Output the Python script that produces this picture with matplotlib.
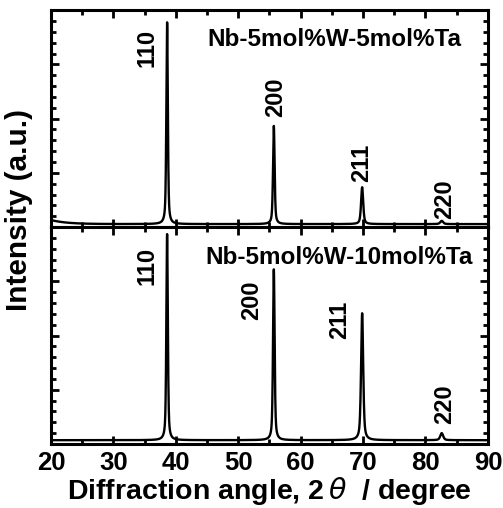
from matplotlib import pyplot as plt
from matplotlib.ticker import MultipleLocator
import numpy as np

plt.rcParams['font.family'] = ['Liberation Sans', 'DejaVu Sans']
plt.rcParams['mathtext.fontset'] = 'dejavusans'

# peak table: 2theta (deg), height above baseline, FWHM (deg)
hkl = ['110', '200', '211', '220']
peak_pos = [38.6, 55.7, 69.85, 82.6]
peak_fwhm = [0.28, 0.3, 0.4, 0.55]

top_name = 'Nb-5mol%W-5mol%Ta'
top_heights = [3.72, 1.81, 0.68, 0.06]
top_base = 0.055
top_hump = 0.075   # small rise of background at the low-angle end

bot_name = 'Nb-5mol%W-10mol%Ta'
bot_heights = [3.80, 3.15, 2.34, 0.13]
bot_base = 0.07
bot_hump = 0.0

# label positions (2theta, intensity) for the hkl text
top_lbl_x = [35.4, 56.0, 69.8, 83.1]
top_lbl_y = [3.30, 2.40, 1.18, 0.52]
bot_lbl_x = [35.4, 52.2, 66.3, 83.0]
bot_lbl_y = [3.28, 2.65, 2.29, 0.74]


def pattern(two_theta, heights, base, hump):
    y = np.full_like(two_theta, base) + hump * np.exp(-(two_theta - 20) / 2.5)
    for p, h, w in zip(peak_pos, heights, peak_fwhm):
        g = np.exp(-4 * np.log(2) * ((two_theta - p) / w) ** 2)
        lor = 1 / (1 + 4 * ((two_theta - p) / w) ** 2)
        y += h * (0.45 * g + 0.55 * lor)
    return y


def style_axes(ax):
    ax.set_xlim(20, 90)
    ax.set_ylim(0, 4)
    ax.xaxis.set_major_locator(MultipleLocator(10))
    ax.xaxis.set_minor_locator(MultipleLocator(5))
    ax.yaxis.set_major_locator(MultipleLocator(1))
    ax.yaxis.set_minor_locator(MultipleLocator(0.2))
    ax.tick_params(which='both', direction='in', top=True, right=True, width=2)
    ax.tick_params(which='major', length=6)
    ax.tick_params(which='minor', length=3.5)
    ax.tick_params(axis='y', labelleft=False)
    for s in ax.spines.values():
        s.set_linewidth(2.2)


fig = plt.figure(figsize=(5.03, 5.08), dpi=100)
ax_top = fig.add_axes([0.1014, 0.553, 0.8686, 0.427])
ax_bot = fig.add_axes([0.1014, 0.126, 0.8686, 0.427])

x = np.arange(20, 90.001, 0.01)

ax_top.plot(x, pattern(x, top_heights, top_base, top_hump), color='black', lw=1.7)
ax_bot.plot(x, pattern(x, bot_heights, bot_base, bot_hump), color='black', lw=1.7)

for ax in (ax_top, ax_bot):
    style_axes(ax)
ax_top.tick_params(axis='x', labelbottom=False)
ax_bot.tick_params(axis='x', labelsize=18.5, pad=5)
for t in ax_bot.get_xticklabels():
    t.set_fontweight('bold')

for lab, lx, ly in zip(hkl, top_lbl_x, top_lbl_y):
    ax_top.text(lx, ly, lab, rotation=90, ha='center', va='center', fontsize=17, fontweight='bold')
for lab, lx, ly in zip(hkl, bot_lbl_x, bot_lbl_y):
    ax_bot.text(lx, ly, lab, rotation=90, ha='center', va='center', fontsize=17, fontweight='bold')

ax_top.text(65.4, 3.45, top_name, ha='center', va='center', fontsize=17.5, fontweight='bold')
ax_bot.text(66.1, 3.43, bot_name, ha='center', va='center', fontsize=17.5, fontweight='bold')

ax_bot.set_xlabel('Diffraction angle, 2$\\,\\theta$  / degree', fontsize=20.5, fontweight='bold', labelpad=0)
fig.text(0.038, 0.587, 'Intensity (a.u.)', rotation=90, ha='center', va='center', fontsize=21.4, fontweight='bold')

fig.savefig('out.png', dpi=100)
